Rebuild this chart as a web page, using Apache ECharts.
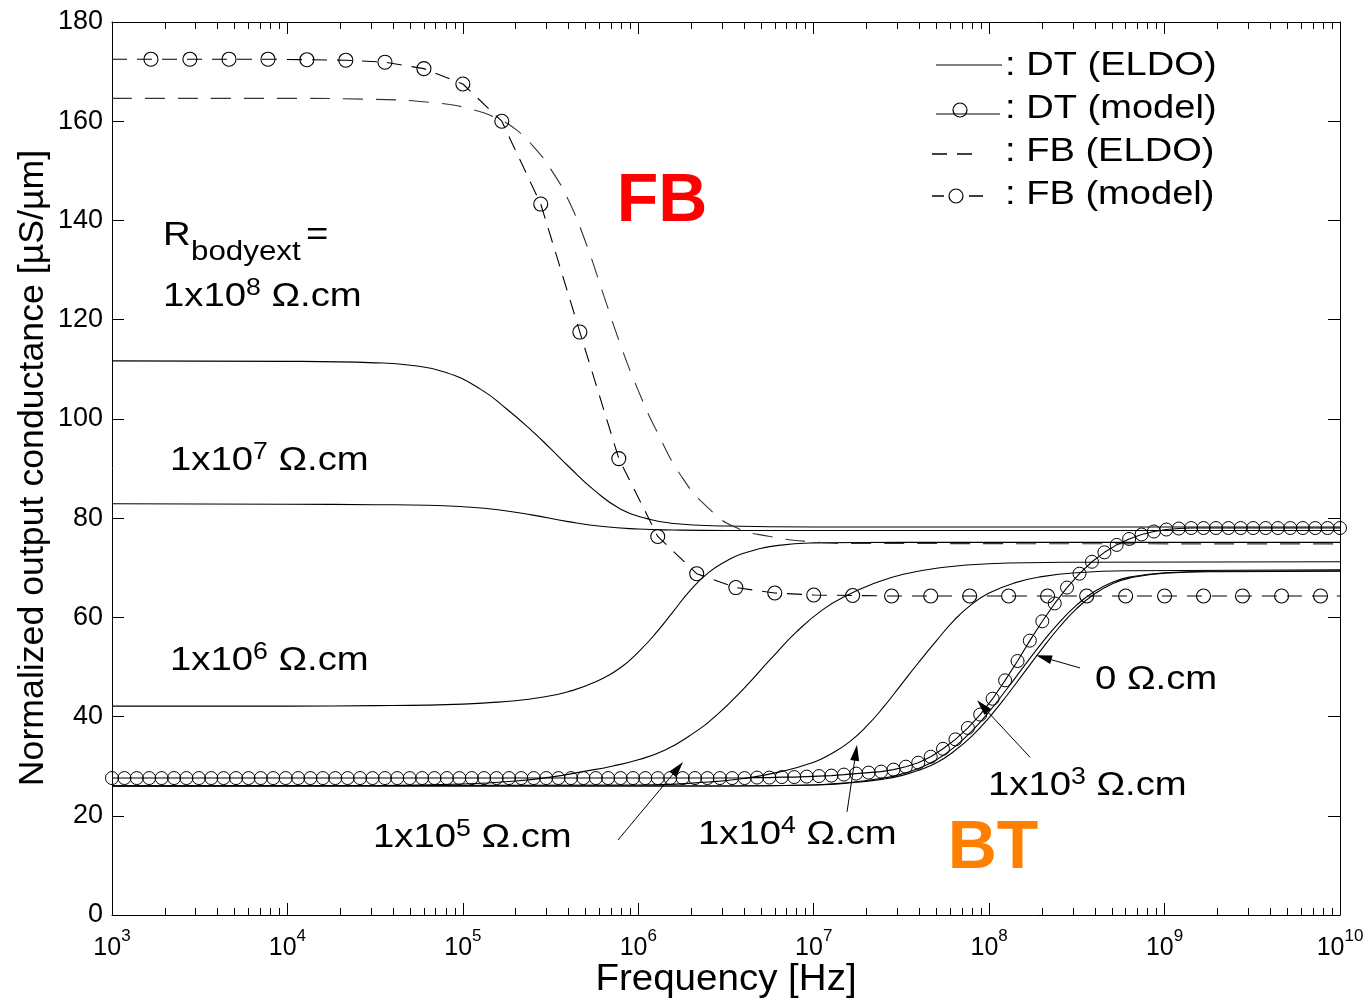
<!DOCTYPE html>
<html>
<head>
<meta charset="utf-8">
<script src="https://cdn.jsdelivr.net/npm/echarts@6/dist/echarts.min.js"></script>
<style>
html, body { margin: 0; padding: 0; background: #fff; }
#main { width: 1371px; height: 1001px; }
</style>
</head>
<body>
<div id="main"></div>
<script>
// x values are log10(frequency / Hz), y values in uS/um
var xMajor = [3, 4, 5, 6, 7, 8, 9, 10];
var yMin = 0, yMax = 180, yStep = 20;

// DT (ELDO) : one curve per R_bodyext
var dt1e8X = [3, 4, 4.5, 4.7, 4.9, 5.1, 5.25, 5.4, 5.5, 5.6, 5.75, 5.9, 6.05, 6.2, 6.5, 7, 10];
var dt1e8Y = [111.7, 111.6, 111.3, 110.8, 109.4, 106.0, 102.0, 97.4, 94.0, 90.5, 85.6, 81.8, 79.9, 78.9, 78.4, 78.2, 78.2];

var dt1e7X = [3, 4, 4.5, 4.8, 5.0, 5.2, 5.4, 5.6, 5.8, 6.0, 6.2, 6.5, 10];
var dt1e7Y = [82.9, 82.8, 82.7, 82.6, 82.3, 81.7, 80.6, 79.3, 78.3, 77.8, 77.6, 77.5, 77.5];

var dt1e6X = [3, 4, 4.5, 4.8, 5.0, 5.15, 5.3, 5.45, 5.6, 5.75, 5.9, 6.0, 6.1, 6.2, 6.3, 6.4, 6.5, 6.6, 6.8, 7.0, 7.5, 10];
var dt1e6Y = [42.1, 42.1, 42.2, 42.3, 42.5, 42.8, 43.2, 43.9, 45.0, 46.9, 49.9, 53.0, 56.8, 61.2, 65.6, 69.0, 71.3, 72.9, 74.5, 75.0, 75.1, 75.1];

var dt1e5X = [3, 4.5, 5.0, 5.3, 5.5, 5.7, 5.85, 6.0, 6.15, 6.3, 6.45, 6.6, 6.75, 6.9, 7.05, 7.2, 7.35, 7.5, 7.7, 8.0, 8.5, 10];
var dt1e5Y = [26.0, 26.1, 26.4, 27.0, 27.8, 29.0, 30.0, 31.3, 33.2, 36.3, 40.4, 45.6, 51.4, 57.0, 61.5, 64.6, 66.9, 68.6, 69.9, 70.8, 71.1, 71.2];

var dt1e4X = [3, 6.0, 6.4, 6.6, 6.8, 7.0, 7.1, 7.2, 7.3, 7.4, 7.5, 7.6, 7.7, 7.8, 7.9, 8.0, 8.15, 8.3, 8.5, 8.8, 10];
var dt1e4Y = [26.0, 26.2, 26.8, 27.5, 28.8, 30.8, 32.5, 34.8, 38.0, 42.0, 46.5, 51.0, 55.3, 59.4, 62.6, 64.9, 67.0, 68.2, 69.0, 69.4, 69.6];

var dt1e3X = [3, 6.5, 7.0, 7.2, 7.4, 7.5, 7.6, 7.7, 7.8, 7.9, 8.0, 8.1, 8.2, 8.3, 8.4, 8.5, 8.6, 8.7, 8.8, 9.0, 9.3, 10];
var dt1e3Y = [26.0, 26.0, 26.2, 26.7, 27.6, 28.4, 29.6, 31.3, 33.8, 37.0, 41.0, 45.5, 50.2, 54.8, 59.0, 62.5, 65.2, 67.0, 68.1, 69.0, 69.3, 69.4];

var dt0X = [3, 6.5, 7.0, 7.2, 7.4, 7.5, 7.6, 7.7, 7.8, 7.9, 8.0, 8.1, 8.2, 8.3, 8.4, 8.5, 8.6, 8.7, 8.8, 9.0, 9.3, 10];
var dt0Y = [26.0, 26.0, 26.2, 26.6, 27.4, 28.1, 29.2, 30.7, 33.0, 36.0, 39.8, 44.2, 48.9, 53.6, 58.0, 61.8, 64.7, 66.7, 67.9, 68.9, 69.2, 69.3];

// DT (model), R_bodyext = 0
var dtModelX = [3.000, 3.071, 3.141, 3.212, 3.283, 3.354, 3.424, 3.495, 3.566, 3.636,
  3.707, 3.778, 3.848, 3.919, 3.990, 4.061, 4.131, 4.202, 4.273, 4.343,
  4.414, 4.485, 4.556, 4.626, 4.697, 4.768, 4.838, 4.909, 4.980, 5.051,
  5.121, 5.192, 5.263, 5.333, 5.404, 5.475, 5.545, 5.616, 5.687, 5.758,
  5.828, 5.899, 5.970, 6.040, 6.111, 6.182, 6.253, 6.323, 6.394, 6.465,
  6.535, 6.606, 6.677, 6.747, 6.818, 6.889, 6.960, 7.030, 7.101, 7.172,
  7.242, 7.313, 7.384, 7.455, 7.525, 7.596, 7.667, 7.737, 7.808, 7.879,
  7.949, 8.020, 8.091, 8.162, 8.232, 8.303, 8.374, 8.444, 8.515, 8.586,
  8.657, 8.727, 8.798, 8.869, 8.939, 9.010, 9.081, 9.152, 9.222, 9.293,
  9.364, 9.434, 9.505, 9.576, 9.646, 9.717, 9.788, 9.859, 9.929, 10.000];
var dtModelY = [27.6, 27.6, 27.6, 27.6, 27.6, 27.6, 27.6, 27.6, 27.6, 27.6,
  27.6, 27.6, 27.6, 27.6, 27.6, 27.6, 27.6, 27.6, 27.6, 27.6,
  27.6, 27.6, 27.6, 27.6, 27.6, 27.6, 27.6, 27.6, 27.6, 27.6,
  27.6, 27.6, 27.6, 27.6, 27.6, 27.6, 27.6, 27.6, 27.6, 27.6,
  27.6, 27.6, 27.6, 27.6, 27.6, 27.6, 27.6, 27.6, 27.6, 27.6,
  27.6, 27.6, 27.7, 27.7, 27.8, 27.8, 27.9, 28.0, 28.1, 28.3,
  28.5, 28.7, 28.9, 29.3, 29.9, 30.7, 31.9, 33.5, 35.4, 37.7,
  40.4, 43.6, 47.3, 51.2, 55.3, 59.2, 62.8, 66.0, 68.8, 71.2,
  73.1, 74.6, 75.8, 76.7, 77.3, 77.7, 77.9, 78.0, 78.0, 78.0,
  78.0, 78.0, 78.0, 78.0, 78.0, 78.0, 78.0, 78.0, 78.0, 78.0];

// FB (ELDO)
var fbEldoX = [3, 4, 4.5, 4.87, 5.06, 5.2, 5.3, 5.4, 5.5, 5.6, 5.7, 5.8, 5.9, 6.0, 6.1, 6.25, 6.4, 6.55, 6.75, 7.0, 7.2, 10];
var fbEldoY = [164.6, 164.6, 164.4, 163.6, 162.3, 160.5, 158.4, 155.0, 150.4, 144.2, 135.6, 125.2, 114.8, 105.7, 97.9, 88.2, 82.0, 78.2, 76.3, 75.2, 74.9, 74.8];

// FB (model) : first and last entries are line ends without marker
var fbModelX = [3.000, 3.222, 3.444, 3.667, 3.889, 4.111, 4.333, 4.556, 4.778, 5.000,
  5.222, 5.444, 5.667, 5.889, 6.111, 6.333, 6.556, 6.778, 7.000, 7.222,
  7.444, 7.667, 7.889, 8.111, 8.333, 8.556, 8.778, 9.000, 9.222, 9.444,
  9.667, 9.889, 10.000];
var fbModelY = [172.5, 172.5, 172.5, 172.5, 172.5, 172.4, 172.3, 171.9, 170.6, 167.5,
  160.0, 143.3, 117.5, 92.0, 76.3, 68.8, 66.0, 64.9, 64.5, 64.4,
  64.3, 64.3, 64.3, 64.3, 64.3, 64.3, 64.3, 64.3, 64.3, 64.3,
  64.3, 64.3, 64.3];

var FONT = '"Liberation Sans", Arial, Helvetica, sans-serif';
var TXT_SX = 1.16;   // reference lettering is a little wider than Arial

function pairs(xs, ys) {
    return xs.map(function (x, i) { return [x, ys[i]]; });
}

// log minor ticks 2..9 in every decade
var minorTicks = [];
xMajor.slice(0, -1).forEach(function (d) {
    for (var k = 2; k <= 9; k++) minorTicks.push(d + Math.log10(k));
});

var chart = echarts.init(document.getElementById('main'));

function xAxisBase(pos, tickLen, opts) {
    var a = {
        type: 'value', position: pos, min: 3, max: 10, interval: 1,
        splitLine: { show: false },
        axisLine: { show: true, onZero: false, lineStyle: { color: '#000', width: 1 } },
        axisTick: { show: true, inside: true, length: tickLen, lineStyle: { color: '#000', width: 1 } },
        axisLabel: { show: false }
    };
    return Object.assign(a, opts || {});
}

var minorTick = { show: true, inside: true, length: 7, customValues: minorTicks, lineStyle: { color: '#000' } };
var solid = { color: '#000', width: 1.1, type: 'solid' };

function eldo(name, xs, ys) {
    return {
        name: name, type: 'line', data: pairs(xs, ys),
        showSymbol: false, symbol: 'none', smooth: 0.5,
        lineStyle: solid, z: 3
    };
}

function label(x, y, text, sup) {
    return {
        type: 'text', x: x, y: y, scaleX: TXT_SX,
        style: {
            text: sup ? text.replace('^', '{s|' + sup + '}') : text,
            font: '33px ' + FONT, lineHeight: 40, fill: '#000', align: 'left', verticalAlign: 'middle',
            rich: { s: { fontSize: 23, lineHeight: 14, verticalAlign: 'top', fontFamily: FONT, fill: '#000' } }
        }
    };
}

function plain(x, y, text, size) {
    return { type: 'text', x: x, y: y, scaleX: TXT_SX,
             style: { text: text, font: size + 'px ' + FONT, fill: '#000', align: 'left', verticalAlign: 'middle' } };
}

function legendText(y, text) {
    return { type: 'text', x: 1005, y: y, scaleX: 1.12,
             style: { text: text, font: '34px ' + FONT, fill: '#000', align: 'left', verticalAlign: 'middle' } };
}

chart.setOption({
    animation: false,
    backgroundColor: '#fff',
    grid: { left: 112, right: 31, top: 22, bottom: 86 },
    xAxis: [
        xAxisBase('bottom', 12, {
            axisLabel: {
                show: true, color: '#000', margin: 13,
                formatter: function (v) { return '{b|10}{s|' + v + '}'; },
                rich: {
                    b: { fontSize: 25, lineHeight: 41, fontFamily: FONT, color: '#000' },
                    s: { fontSize: 17, lineHeight: 16, verticalAlign: 'top', fontFamily: FONT, color: '#000' }
                }
            }
        }),
        xAxisBase('bottom', 7, { axisLine: { show: false, onZero: false }, axisTick: minorTick }),
        xAxisBase('top', 12),
        xAxisBase('top', 7, { axisLine: { show: false, onZero: false }, axisTick: minorTick })
    ],
    yAxis: [
        {
            type: 'value', position: 'left', min: yMin, max: yMax, interval: yStep,
            splitLine: { show: false },
            axisLine: { show: true, onZero: false, lineStyle: { color: '#000', width: 1 } },
            axisTick: { show: true, inside: true, length: 12, lineStyle: { color: '#000' } },
            axisLabel: { color: '#000', fontSize: 27, fontFamily: FONT, margin: 9 }
        },
        {
            type: 'value', position: 'right', min: yMin, max: yMax, interval: yStep,
            splitLine: { show: false },
            axisLine: { show: true, onZero: false, lineStyle: { color: '#000', width: 1 } },
            axisTick: { show: true, inside: true, length: 12, lineStyle: { color: '#000' } },
            axisLabel: { show: false }
        }
    ],
    series: [
        eldo('DT 1e8', dt1e8X, dt1e8Y),
        eldo('DT 1e7', dt1e7X, dt1e7Y),
        eldo('DT 1e6', dt1e6X, dt1e6Y),
        eldo('DT 1e5', dt1e5X, dt1e5Y),
        eldo('DT 1e4', dt1e4X, dt1e4Y),
        eldo('DT 1e3', dt1e3X, dt1e3Y),
        eldo('DT 0', dt0X, dt0Y),
        {
            name: 'FB (ELDO)', type: 'line', data: pairs(fbEldoX, fbEldoY),
            symbol: 'none', smooth: 0.5,
            lineStyle: { color: '#333', width: 1.1, type: [20, 13] }, z: 3
        },
        {
            name: 'FB (model)', type: 'line',
            data: fbModelX.map(function (x, i) {
                var end = (i === 0 || i === fbModelX.length - 1);
                return { value: [x, fbModelY[i]], symbol: end ? 'none' : 'circle' };
            }),
            symbol: 'circle', symbolSize: 14, showAllSymbol: true,
            lineStyle: { color: '#000', width: 1.1, type: [15, 10] },
            itemStyle: { color: 'rgba(0,0,0,0)', borderColor: '#000', borderWidth: 1.1 },
            z: 4
        },
        {
            name: 'DT (model)', type: 'line', data: pairs(dtModelX, dtModelY),
            symbol: 'circle', symbolSize: 13, showAllSymbol: true,
            lineStyle: solid,
            itemStyle: { color: 'rgba(0,0,0,0)', borderColor: '#000', borderWidth: 1 },
            z: 4
        },
        {
            name: 'arrows', type: 'line', data: [], silent: true,
            markLine: {
                silent: true, symbol: ['none', 'triangle'], symbolSize: [9, 16],
                label: { show: false },
                lineStyle: { color: '#000', width: 1, type: 'solid' },
                data: [
                    [{ coord: [5.884, 15.1] }, { coord: [6.226, 29.6] }],
                    [{ coord: [7.190, 20.8] }, { coord: [7.240, 32.7] }],
                    [{ coord: [8.233, 31.8] }, { coord: [7.962, 42.1] }],
                    [{ coord: [8.518, 49.8] }, { coord: [8.311, 51.9] }]
                ]
            }
        }
    ],
    graphic: [
        // axis titles
        { type: 'text', x: 33, y: 468, rotation: Math.PI / 2, scaleX: 1.02,
          style: { text: 'Normalized output conductance [\u00b5S/\u00b5m]', font: '35px ' + FONT, fill: '#000', align: 'center', verticalAlign: 'middle' } },
        { type: 'text', x: 726, y: 980, scaleX: 1.07,
          style: { text: 'Frequency [Hz]', font: '36px ' + FONT, fill: '#000', align: 'center', verticalAlign: 'middle' } },

        // annotations
        plain(163, 236, 'R', 33),
        plain(191, 253, 'bodyext', 27),
        plain(306, 236, '=', 33),
        label(163, 297, '1x10^ \u03a9.cm', '8'),
        label(170, 461, '1x10^ \u03a9.cm', '7'),
        label(170, 661, '1x10^ \u03a9.cm', '6'),
        label(373, 838, '1x10^ \u03a9.cm', '5'),
        label(698, 835, '1x10^ \u03a9.cm', '4'),
        label(988, 786, '1x10^ \u03a9.cm', '3'),
        label(1095, 680, '0 \u03a9.cm'),
        { type: 'text', x: 662, y: 202,
          style: { text: 'FB', font: 'bold 68px ' + FONT, fill: '#ff0000', align: 'center', verticalAlign: 'middle' } },
        { type: 'text', x: 993, y: 849,
          style: { text: 'BT', font: 'bold 68px ' + FONT, fill: '#ff8000', align: 'center', verticalAlign: 'middle' } },

        // legend (MATLAB style, no frame)
        { type: 'line', shape: { x1: 936, y1: 65, x2: 1002, y2: 65 }, style: { stroke: '#000', lineWidth: 1 } },
        { type: 'line', shape: { x1: 936, y1: 114, x2: 1000, y2: 114 }, style: { stroke: '#000', lineWidth: 1 } },
        { type: 'circle', shape: { cx: 960, cy: 110, r: 7 }, style: { fill: 'none', stroke: '#000', lineWidth: 1.2 } },
        { type: 'line', shape: { x1: 932, y1: 154, x2: 947, y2: 154 }, style: { stroke: '#000', lineWidth: 1.5 } },
        { type: 'line', shape: { x1: 957, y1: 154, x2: 972, y2: 154 }, style: { stroke: '#000', lineWidth: 1.5 } },
        { type: 'line', shape: { x1: 932, y1: 196, x2: 944, y2: 196 }, style: { stroke: '#000', lineWidth: 1.5 } },
        { type: 'circle', shape: { cx: 956, cy: 196, r: 7 }, style: { fill: 'none', stroke: '#000', lineWidth: 1.2 } },
        { type: 'line', shape: { x1: 969, y1: 196, x2: 983, y2: 196 }, style: { stroke: '#000', lineWidth: 1.5 } },
        legendText(66, ': DT (ELDO)'),
        legendText(109, ': DT (model)'),
        legendText(152, ': FB (ELDO)'),
        legendText(195, ': FB (model)')
    ]
});
</script>
</body>
</html>
